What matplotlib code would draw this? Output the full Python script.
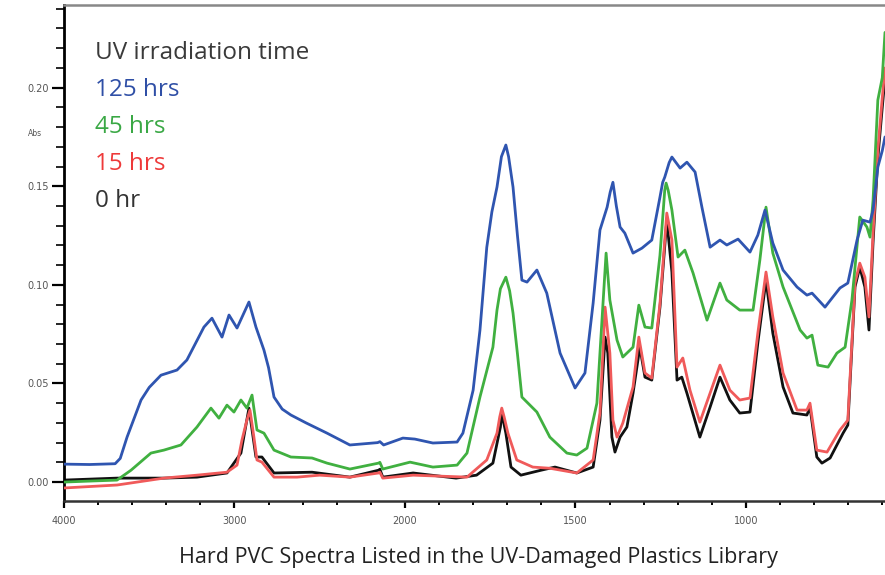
import numpy as np
import matplotlib

matplotlib.use("Agg")
import matplotlib.pyplot as plt
from matplotlib.ticker import FixedLocator, FixedFormatter

# wavenumber (cm-1) / absorbance
wn_125 = [4000, 3850, 3700, 3670, 3630, 3548, 3500, 3431, 3337, 3279, 3179, 3132, 3073, 3032,
          2985, 2915, 2874, 2827, 2800, 2768, 2720, 2669, 2580, 2457, 2323, 2160, 2147, 2125,
          2012, 1971, 1918, 1847, 1830, 1800, 1780, 1760, 1745, 1730, 1717, 1704, 1696, 1683,
          1670, 1657, 1642, 1613, 1584, 1545, 1501, 1472, 1448, 1428, 1407, 1398, 1390, 1380,
          1369, 1355, 1331, 1305, 1276, 1252, 1244, 1238, 1225, 1217, 1193, 1173, 1149, 1129,
          1105, 1076, 1056, 1023, 988, 965, 944, 921, 891, 850, 821, 806, 768, 745, 724, 701,
          674, 657, 636, 627, 613, 600, 592]
abs_125 = [.0091, .0089, .0093, .0120, .0228, .0416, .0480, .0542, .0568, .0619, .0786, .0831, .0735, .0847,
           .0781, .0913, .0786, .0669, .0580, .0431, .0370, .0340, .0300, .0248, .0188, .0200, .0205, .0188,
           .0223, .0218, .0198, .0203, .0248, .0466, .0770, .1190, .1370, .1496, .1650, .1709, .1650, .1496,
           .1250, .1024, .1014, .1075, .0958, .0654, .0477, .0553, .0908, .1278, .1394, .1470, .1520, .1400,
           .1293, .1262, .1161, .1186, .1227, .1445, .1520, .1546, .1620, .1648, .1592, .1622, .1572, .1394,
           .1191, .1227, .1202, .1232, .1166, .1252, .1379, .1212, .1075, .0989, .0948, .0958, .0887, .0938,
           .0984, .1009, .1227, .1328, .1318, .1379, .1597, .1680, .1750]

wn_45 = [4000, 3850, 3689, 3607, 3490, 3414, 3314, 3220, 3138, 3091, 3044, 3003,
         2962, 2927, 2897, 2868, 2827, 2768, 2669, 2545, 2457, 2323, 2155, 2147,
         2130, 1985, 1918, 1847, 1818, 1780, 1742, 1730, 1720, 1704, 1693, 1683, 1670,
         1657, 1613, 1575, 1525, 1496, 1466, 1437, 1419, 1410, 1399, 1378, 1361, 1331,
         1314, 1296, 1276, 1252, 1238, 1234, 1228, 1217, 1199, 1179, 1155, 1114, 1076,
         1056, 1018, 979, 959, 941, 921, 891, 841, 821, 806, 789, 759, 733, 709, 689,
         666, 645, 636, 627, 613, 600, 592]
abs_45 = [.0000, .0005, .0010, .0060, .0147, .0162, .0188, .0279, .0375, .0324, .0390, .0355,
          .0416, .0375, .0441, .0264, .0248, .0162, .0127, .0122, .0096, .0066, .0096, .0100,
          .0066, .0101, .0076, .0086, .0147, .0431, .0684, .0872, .0980, .1039, .0970, .0857, .0650,
          .0431, .0355, .0228, .0147, .0137, .0172, .0400, .0908, .1161, .0923, .0720, .0634, .0684,
          .0897, .0786, .0781, .1150, .1480, .1516, .1480, .1379, .1141, .1176, .1060, .0821, .1009,
          .0923, .0872, .0872, .1126, .1394, .1161, .0989, .0771, .0730, .0745, .0593, .0583, .0654,
          .0684, .0923, .1344, .1293, .1242, .1430, .1937, .2050, .2280]

wn_15 = [4000, 3689, 3414, 3220, 3044, 2985, 2956, 2927, 2909, 2886, 2868, 2839,
         2768, 2633, 2500, 2323, 2155, 2147, 2130, 1976, 1818, 1760, 1730, 1722, 1716,
         1709, 1698, 1672, 1625, 1575, 1496, 1448, 1428, 1413, 1399, 1390, 1378, 1361,
         1331, 1314, 1296, 1276, 1252, 1232, 1217, 1202, 1185, 1164, 1135, 1105,
         1076, 1047, 1018, 988, 965, 941, 921, 891, 850, 821, 812, 792, 762, 724,
         701, 680, 666, 651, 639, 627, 613, 600, 592]
abs_15 = [-.0030, -.0015, .0020, .0035, .0050, .0086, .0213, .0314, .0365, .0228, .0112, .0101,
          .0025, .0025, .0035, .0025, .0046, .0050, .0020, .0035, .0025, .0112, .0248, .0330, .0375,
          .0330, .0248, .0112, .0076, .0070, .0046, .0112, .0350, .0887, .0654, .0314, .0228, .0299,
          .0482, .0735, .0553, .0527, .0905, .1364, .1227, .0583, .0629, .0466, .0304, .0451,
          .0593, .0466, .0416, .0426, .0755, .1065, .0837, .0553, .0365, .0365, .0400, .0162,
          .0152, .0264, .0314, .1009, .1110, .1039, .0837, .1262, .1683, .1950, .2100]

wn_0 = [4000, 3689, 3414, 3220, 3044, 2962, 2915, 2874, 2839, 2768, 2545, 2323,
        2155, 2147, 2130, 1976, 1850, 1790, 1742, 1720, 1716, 1704, 1689, 1660,
        1601, 1560, 1496, 1448, 1428, 1413, 1405, 1393, 1384, 1369, 1349, 1331,
        1311, 1296, 1276, 1252, 1232, 1217, 1202, 1188, 1173, 1135, 1105, 1076,
        1047, 1018, 988, 965, 941, 921, 891, 862, 821, 812, 792, 777, 753, 715,
        701, 680, 666, 651, 639, 627, 613, 600, 592]
abs_0 = [.0010, .0020, .0020, .0025, .0046, .0147, .0375, .0127, .0127, .0046, .0050, .0025,
         .0060, .0065, .0025, .0046, .0020, .0035, .0096, .0279, .0350, .0248, .0076, .0035,
         .0060, .0076, .0046, .0076, .0314, .0735, .0654, .0228, .0152, .0228, .0279, .0451,
         .0684, .0532, .0517, .0887, .1328, .1065, .0517, .0532, .0451, .0228, .0380, .0532,
         .0416, .0350, .0355, .0705, .1024, .0755, .0482, .0350, .0340, .0380, .0127, .0096,
         .0122, .0248, .0289, .0989, .1090, .0989, .0771, .1217, .1643, .1900, .2050]

legend_labels = ["125 hrs", "45 hrs", "15 hrs", "0 hr"]
legend_colours = ["#2f4fa6", "#3aa845", "#ee3a3a", "#333333"]

x_major = [4000, 3000, 2000, 1500, 1000]
y_major = [0.00, 0.05, 0.10, 0.15, 0.20]


# FTIR x axis: half scale above 2000 cm-1
def _fwd(w):
    w = np.asarray(w, dtype=float)
    return np.where(w >= 2000, (w - 4000) / 2.0, w - 3000)


def _inv(v):
    v = np.asarray(v, dtype=float)
    return np.where(v >= -1000, 2.0 * v + 4000, v + 3000)


fig = plt.figure(figsize=(8.85, 5.75), dpi=100, facecolor="white")
ax = fig.add_axes([0.0723, 0.1287, 0.9277, 0.8626])
ax.set_xscale("function", functions=(_fwd, _inv))

kw = dict(lw=2.0, solid_joinstyle="round", solid_capstyle="round")
ax.plot(wn_0, abs_0, color="#111111", zorder=2, **kw)
ax.plot(wn_15, abs_15, color="#f05a5a", zorder=3, **kw)
ax.plot(wn_45, abs_45, color="#40b040", zorder=4, **kw)
ax.plot(wn_125, abs_125, color="#2f55b0", zorder=5, **kw)

ax.set_xlim(4000, 592)
ax.set_ylim(-0.0096, 0.2419)

ax.xaxis.set_major_locator(FixedLocator(x_major))
ax.xaxis.set_major_formatter(FixedFormatter([str(v) for v in x_major]))
x_minor = list(range(3800, 2000, -200)) + list(range(1900, 590, -100))
ax.xaxis.set_minor_locator(FixedLocator(x_minor))
ax.yaxis.set_major_locator(FixedLocator(y_major))
ax.yaxis.set_major_formatter(FixedFormatter([f"{v:.2f}" for v in y_major]))
ax.yaxis.set_minor_locator(FixedLocator(np.arange(-0.01, 0.245, 0.01)))

ax.tick_params(axis="x", which="major", direction="out", length=5, width=1.6,
               labelsize=7, labelcolor="#555555", pad=6)
ax.tick_params(axis="x", which="minor", direction="out", length=3, width=1.4)
ax.tick_params(axis="y", which="major", direction="out", length=9, width=1.6,
               labelsize=7, labelcolor="#555555", pad=2)
ax.tick_params(axis="y", which="minor", direction="out", length=6, width=1.2)

ax.spines["left"].set_linewidth(2.0)
ax.spines["bottom"].set_linewidth(1.8)
ax.spines["bottom"].set_color("#333333")
ax.spines["top"].set_linewidth(1.8)
ax.spines["top"].set_color("#888888")
ax.spines["right"].set_visible(False)

fig.text(35 / 885, 1 - 134 / 575, "Abs", fontsize=5.5, color="#555555",
         ha="center", va="center")

# legend as coloured text block
fig.text(95 / 885, 1 - 53 / 575, "UV irradiation time",
         fontsize=17.5, color="#3a3a3a", family="Open Sans", va="center", ha="left")
for i, (lab, col) in enumerate(zip(legend_labels, legend_colours)):
    fig.text(95 / 885, 1 - (90 + i * 37) / 575, lab,
             fontsize=17.5, color=col, family="Open Sans", va="center", ha="left")

fig.text(478 / 885, 1 - 557 / 575,
         "Hard PVC Spectra Listed in the UV-Damaged Plastics Library",
         fontsize=15.5, color="#222222", family="Open Sans", ha="center", va="center")

fig.savefig("out.png", dpi=100, facecolor="white")
plt.close(fig)
